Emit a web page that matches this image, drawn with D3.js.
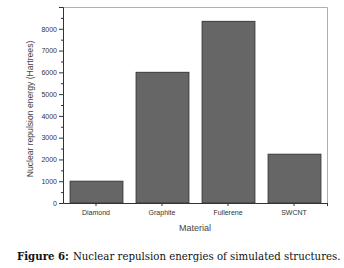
<!DOCTYPE html>
<html lang='en'>
<head>
  <meta charset='UTF-8'>
  <title>Nuclear repulsion energies</title>
  <style>
    * { margin: 0; padding: 0; }
    body { background: #fff; }
    #chart { width: 344px; height: 268px; }
  </style>
</head>
<body>
<script src='https://cdn.jsdelivr.net/npm/d3@7'></script>
<div id='chart'></div>
<script>
  const materials = ['Diamond', 'Graphite', 'Fullerene', 'SWCNT']
  const energies = [1000, 6000, 8340, 2240]
  const yTicks = [0, 1000, 2000, 3000, 4000, 5000, 6000, 7000, 8000]
  const yMinorTicks = [500, 1500, 2500, 3500, 4500, 5500, 6500, 7500, 8500]

  let W = 344, H = 268
  let plot = {left: 63, right: 327, top: 7, bottom: 203}

  let svg = d3.select('#chart').append('svg')
    .attr('width', W).attr('height', H)

  svg.append('rect').attr('width', W).attr('height', H).style('fill', '#fff')

  let x = d3.scaleBand()
    .domain(materials)
    .range([plot.left, plot.right])
    .paddingInner(0.2)
    .paddingOuter(0.1)
  let y = d3.scaleLinear()
    .domain([0, 9000])
    .range([plot.bottom, plot.top])

  // frame (top / right)
  svg.append('path')
    .attr('d', `M${plot.left},${plot.top + 0.5}H${plot.right + 0.5}V${plot.bottom}`)
    .attr('fill', 'none')
    .attr('stroke', '#b0b0b0')
    .attr('stroke-width', 1)

  // bars
  svg.append('g').selectAll('rect')
    .data(materials)
    .join('rect')
    .attr('x', d => x(d) + 0.5)
    .attr('y', (d, i) => y(energies[i]))
    .attr('width', x.bandwidth())
    .attr('height', (d, i) => y(0) - y(energies[i]))
    .attr('fill', '#666')
    .attr('stroke', '#3a3a3a')
    .attr('stroke-width', 1)

  // y axis
  let yAxis = svg.append('g')
    .attr('transform', `translate(${plot.left},0)`)
    .call(d3.axisLeft(y).tickValues(yTicks).tickSize(4).tickPadding(2).tickFormat(d3.format('d')))
  yAxis.select('.domain').attr('stroke', '#333')
  yAxis.selectAll('.tick line').attr('stroke', '#333')
  yAxis.selectAll('text').attr('font-family', 'Liberation Sans, Arial, sans-serif').attr('font-size', 7).attr('fill', '#333')
  yAxis.selectAll('.minor').data(yMinorTicks).join('line')
    .attr('class', 'minor')
    .attr('x1', -2).attr('x2', 0)
    .attr('y1', d => y(d) + 0.5).attr('y2', d => y(d) + 0.5)
    .attr('stroke', '#333')

  // x axis
  let xAxis = svg.append('g')
    .attr('transform', `translate(0,${plot.bottom})`)
    .call(d3.axisBottom(x).tickSize(3).tickPadding(4).tickSizeOuter(0))
  xAxis.select('.domain').attr('stroke', '#333')
  xAxis.selectAll('.tick line').attr('stroke', '#333')
  xAxis.selectAll('text').attr('font-family', 'Liberation Sans, Arial, sans-serif').attr('font-size', 7).attr('fill', '#333')
  xAxis.append('line')
    .attr('x1', plot.right + 0.5).attr('x2', plot.right + 0.5).attr('y1', 0).attr('y2', 3)
    .attr('stroke', '#333')

  // axis titles
  svg.append('text')
    .attr('transform', `translate(33,${(plot.top + plot.bottom) / 2 + 4}) rotate(-90)`)
    .attr('text-anchor', 'middle')
    .attr('font-family', 'Liberation Sans, Arial, sans-serif')
    .attr('font-size', 8.6)
    .attr('fill', '#444')
    .text('Nuclear repulsion energy (Hartrees)')
  svg.append('text')
    .attr('x', (plot.left + plot.right) / 2)
    .attr('y', 231)
    .attr('text-anchor', 'middle')
    .attr('font-family', 'Liberation Sans, Arial, sans-serif')
    .attr('font-size', 9)
    .attr('fill', '#444')
    .text('Material')

  // caption
  let cap = svg.append('text')
    .attr('x', 17)
    .attr('y', 260)
    .attr('font-family', 'DejaVu Serif, Liberation Serif, serif')
    .attr('font-size', 10.2)
    .attr('fill', '#111')
  cap.append('tspan').attr('font-weight', 'bold').text('Figure 6:')
  cap.append('tspan').attr('dx', 4).text('Nuclear repulsion energies of simulated structures.')
</script>
</body>
</html>
